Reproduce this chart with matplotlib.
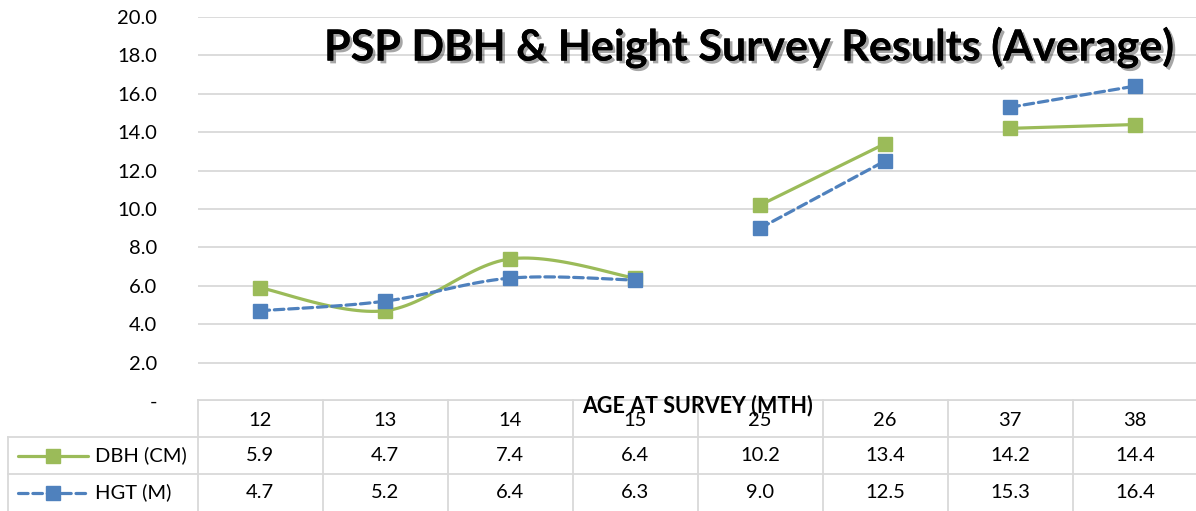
import numpy as np
import matplotlib
matplotlib.use("Agg")
import matplotlib.pyplot as plt
import matplotlib.patheffects as pe

plt.rcParams['font.family'] = ['Lato', 'DejaVu Sans']

# data
ages = ['12', '13', '14', '15', '25', '26', '37', '38']
dbh = [5.9, 4.7, 7.4, 6.4, 10.2, 13.4, 14.2, 14.4]
hgt = [4.7, 5.2, 6.4, 6.3, 9.0, 12.5, 15.3, 16.4]
# runs of points joined by a line (gaps between 15-25 and 26-37)
groups = [[0, 1, 2, 3], [4, 5], [6, 7]]
series_names = ['DBH (CM)', 'HGT (M)']

GREEN = '#9BBB59'
BLUE = '#4F81BD'
GRID = '#D9D9D9'


def smooth(xs, ys, n=30):
    # excel-like smoothed line (cardinal bezier)
    pts = np.column_stack([xs, ys]).astype(float)
    out = [pts[0]]
    for i in range(len(pts) - 1):
        p0 = pts[max(i - 1, 0)]
        p1 = pts[i]
        p2 = pts[i + 1]
        p3 = pts[min(i + 2, len(pts) - 1)]
        c1 = p1 + (p2 - p0) / 6.0
        c2 = p2 - (p3 - p1) / 6.0
        t = np.linspace(0, 1, n)[1:, None]
        seg = ((1 - t) ** 3) * p1 + 3 * ((1 - t) ** 2) * t * c1 + 3 * (1 - t) * t ** 2 * c2 + t ** 3 * p2
        out.extend(seg)
    out = np.array(out)
    return out[:, 0], out[:, 1]


W, H = 1196, 511
fig = plt.figure(figsize=(W / 100, H / 100), dpi=100)
x0 = 197.5 / W
ax = fig.add_axes([x0, 110 / H, 1000 / W, 384 / H])

x = np.arange(len(ages))
for vals, col, ls in [(dbh, GREEN, '-'), (hgt, BLUE, '--')]:
    for g in groups:
        sx, sy = smooth(x[g], np.array(vals)[g])
        ax.plot(sx, sy, color=col, lw=2.3, ls=ls, dashes=(3, 1.5) if ls == '--' else (None, None),
                solid_capstyle='round', dash_capstyle='round', zorder=3)
    ax.plot(x, vals, ls='none', marker='s', ms=10, mfc=col, mec=col, zorder=4)

ax.set_xlim(-0.5, len(ages) - 0.5)
ax.set_ylim(0, 20)
ax.set_yticks(np.arange(0, 21, 2))
ax.set_yticklabels(['-'] + ['%.1f' % v for v in np.arange(2, 21, 2)], fontsize=14.5)
ax.tick_params(axis='y', length=0, pad=29)
ax.set_xticks([])
ax.grid(axis='y', color=GRID, lw=1.3)
ax.set_axisbelow(True)
for s in ax.spines.values():
    s.set_visible(False)

fig.text(749 / W, 1 - 47 / H, 'PSP DBH & Height Survey Results (Average)', ha='center', va='center',
         fontsize=31, fontweight='bold', color='black',
         path_effects=[pe.withSimplePatchShadow(offset=(2, -2), alpha=0.35), pe.Normal()])

# data table
tb = fig.add_axes([x0, 0, 1000 / W, 111 / H])
tb.set_xlim(-0.5, len(ages) - 0.5)
tb.set_ylim(3, 0)
tb.axis('off')
left = -0.5 - 189.5 / 125
kw = dict(color=GRID, lw=1.3, clip_on=False)
tb.plot([-0.5, len(ages) - 0.5], [0, 0], **kw)
tb.plot([left, len(ages) - 0.5], [1, 1], **kw)
tb.plot([left, len(ages) - 0.5], [2, 2], **kw)
tb.plot([left, left], [1, 3], **kw)
for xv in np.arange(-0.5, len(ages), 1.0):
    tb.plot([xv, xv], [0, 3], **kw)

for i, a in enumerate(ages):
    tb.text(i, 0.55, a, ha='center', va='center', fontsize=14.5)
    tb.text(i, 1.5, '%.1f' % dbh[i], ha='center', va='center', fontsize=14.5)
    tb.text(i, 2.5, '%.1f' % hgt[i], ha='center', va='center', fontsize=14.5)

# legend keys in table
kx0 = left + 10 / 125
kx1 = left + 80 / 125
km = (kx0 + kx1) / 2
for row, name, col, ls in [(1.5, series_names[0], GREEN, '-'), (2.5, series_names[1], BLUE, '--')]:
    tb.plot([kx0, kx1], [row, row], color=col, lw=2.3, ls=ls, dashes=(3, 1.5) if ls == '--' else (None, None),
            solid_capstyle='round', dash_capstyle='round', clip_on=False)
    tb.plot([km], [row], marker='s', ms=10, mfc=col, mec=col, clip_on=False)
    tb.text(left + 87 / 125, row, name, ha='left', va='center', fontsize=14.5)

fig.text(697 / W, 1 - 406 / H, 'AGE AT SURVEY (MTH)', ha='center', va='center',
         fontsize=15.5, fontweight='bold')

fig.savefig('out.png', dpi=100)
